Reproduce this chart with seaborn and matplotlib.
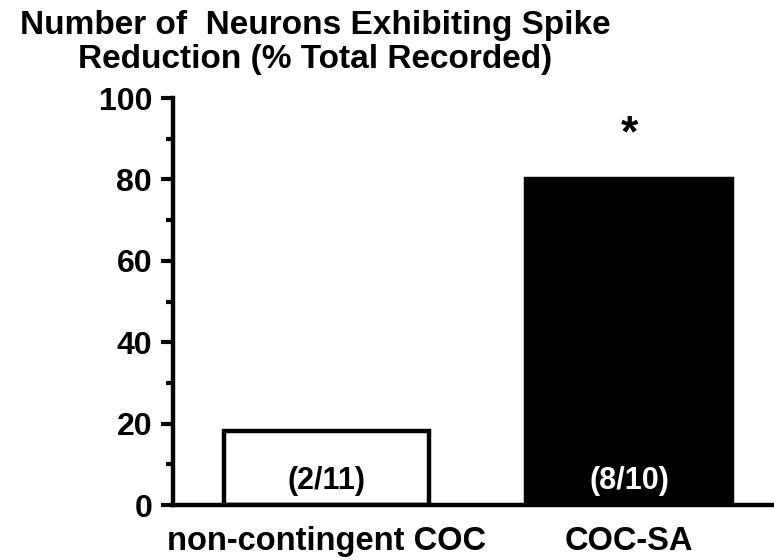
import matplotlib
matplotlib.use("Agg")
import matplotlib.pyplot as plt
import seaborn as sns
import pandas as pd
from matplotlib.ticker import MultipleLocator

categories = ["non-contingent COC", "COC-SA"]
values = [18.18, 80.0]
counts = ["(2/11)", "(8/10)"]
bar_colors = ["white", "black"]
count_colors = ["black", "white"]
yticks = [0, 20, 40, 60, 80, 100]
significance = ["", "*"]

sns.set_theme(style="white")
plt.rcParams["font.family"] = ["Liberation Sans", "DejaVu Sans"]
plt.rcParams["text.color"] = "black"
plt.rcParams["xtick.color"] = "black"
plt.rcParams["ytick.color"] = "black"
plt.rcParams["axes.labelcolor"] = "black"

df = pd.DataFrame({"group": categories, "pct": values})

fig = plt.figure(figsize=(7.74, 5.59), dpi=100)
ax = fig.add_axes([0.2235, 0.0966, 0.7765, 0.728])

sns.barplot(data=df, x="group", y="pct", hue="group", palette=bar_colors,
            edgecolor="black", linewidth=3.2, width=0.68, legend=False, ax=ax,
            saturation=1)

ax.set_xlim(-0.507, 1.479)
ax.set_ylim(0, 100)
ax.set_yticks(yticks)
ax.yaxis.set_minor_locator(MultipleLocator(10))
ax.tick_params(axis="y", which="major", direction="out", length=9, width=3,
               left=True, labelsize=23, pad=6)
ax.tick_params(axis="y", which="minor", direction="out", length=5, width=3, left=True)
ax.tick_params(axis="x", which="both", bottom=False, labelsize=23.5, pad=9)
for lab in ax.get_yticklabels() + ax.get_xticklabels():
    lab.set_fontweight("bold")
for s in ["top", "right"]:
    ax.spines[s].set_visible(False)
for s in ["left", "bottom"]:
    ax.spines[s].set_linewidth(3.2)
    ax.spines[s].set_color("black")
ax.set_xlabel("")
ax.set_ylabel("")

for i, (c, col) in enumerate(zip(counts, count_colors)):
    ax.text(i, 6, c, ha="center", va="center", fontsize=22, fontweight="bold", color=col)
for i, (s, v) in enumerate(zip(significance, values)):
    if s:
        ax.text(i, v + 11, s, ha="center", va="center", fontsize=32, fontweight="bold", color="black")

fig.text(0.407, 0.982, "Number of  Neurons Exhibiting Spike\nReduction (% Total Recorded)",
         ha="center", va="top", multialignment="center", fontsize=24, fontweight="bold",
         linespacing=1.12)

fig.savefig("out.png", dpi=100)
